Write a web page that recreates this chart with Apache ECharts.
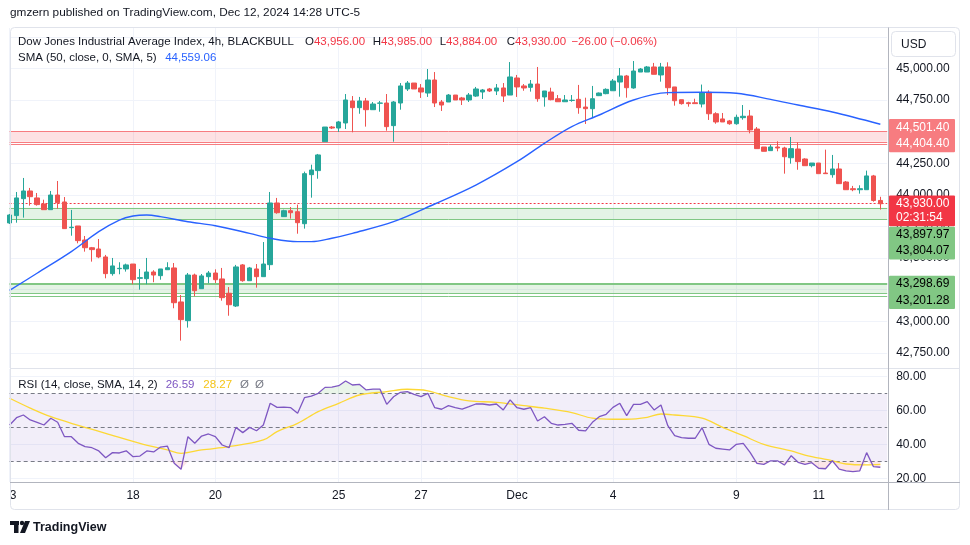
<!DOCTYPE html>
<html><head><meta charset="utf-8">
<script src="https://cdn.jsdelivr.net/npm/echarts@6/dist/echarts.min.js"></script>
<style>html,body{margin:0;padding:0;background:#fff}#c{width:970px;height:545px}</style>
</head><body><div id="c"></div>
<script>
const FONT = '"Liberation Sans", Arial, sans-serif';
// 4h candles: [open, close, low, high]
const candles = [
[43778,43841,43770,43849],[43836,43976,43780,44023],[43970,44031,43820,44134],[44031,43986,43915,44055],
[43976,43923,43915,44015],[43928,43883,43883,43962],[43883,43999,43883,44031],[43999,43938,43891,44110],
[43944,43733,43733,43983],[43741,43744,43677,43881],[43754,43638,43617,43754],[43643,43582,43551,43675],
[43582,43567,43472,43588],[43572,43509,43499,43651],[43509,43377,43340,43525],[43377,43438,43361,43501],
[43416,43419,43372,43467],[43414,43446,43393,43456],[43453,43329,43293,43453],[43340,43345,43250,43414],
[43337,43390,43293,43501],[43390,43366,43309,43404],[43361,43414,43329,43414],[43408,43424,43408,43467],
[43422,43147,43103,43461],[43153,43013,42847,43208],[43005,43366,42950,43382],[43366,43242,43198,43377],
[43258,43359,43258,43374],[43353,43382,43301,43398],[43382,43329,43303,43411],[43335,43187,43163,43422],
[43222,43131,43044,43271],[43121,43430,43113,43446],[43446,43321,43313,43453],[43321,43422,43321,43430],
[43414,43353,43266,43453],[43353,43453,43353,43627],[43448,43936,43406,44023],[43936,43859,43851,43976],
[43828,43875,43828,43883],[43875,43859,43812,43904],[43867,43780,43693,43923],[43772,44168,43733,44184],
[44160,44197,43978,44239],[44192,44316,44128,44324],[44421,44537,44421,44537],[44537,44529,44521,44545],
[44529,44577,44498,44585],[44569,44751,44521,44798],[44743,44690,44495,44782],[44690,44743,44642,44775],
[44743,44674,44540,44767],[44674,44719,44674,44735],[44725,44727,44658,44743],[44727,44540,44508,44798],
[44548,44735,44421,44743],[44727,44862,44674,44885],[44838,44885,44822,44901],[44885,44838,44838,44885],
[44846,44814,44767,44877],[44806,44909,44775,44996],[44909,44727,44695,44972],[44735,44711,44664,44751],
[44735,44790,44735,44798],[44790,44751,44751,44790],[44767,44751,44711,44775],[44751,44790,44735,44806],
[44782,44838,44775,44854],[44814,44830,44759,44838],[44838,44822,44814,44846],[44822,44846,44790,44877],
[44846,44782,44735,44885],[44790,44933,44790,45051],[44925,44854,44775,44949],[44862,44846,44824,44877],
[44851,44877,44817,44909],[44877,44761,44737,45012],[44775,44822,44698,44822],[44814,44753,44748,44848],
[44761,44737,44737,44790],[44737,44751,44737,44790],[44747,44749,44737,44790],[44756,44690,44642,44870],
[44695,44682,44561,44769],[44682,44761,44611,44862],[44785,44806,44782,44810],[44801,44835,44796,44843],
[44824,44901,44824,44917],[44893,44941,44777,45004],[44941,44848,44769,44949],[44846,44980,44840,45059],
[44972,44996,44972,45004],[44972,45012,44972,45020],[45012,44954,44954,45044],[44949,45012,44896,45044],
[45012,44848,44790,45049],[44854,44745,44706,44854],[44753,44722,44714,44753],[44729,44722,44698,44737],
[44729,44722,44722,44761],[44719,44810,44692,44873],[44812,44642,44593,44828],[44642,44577,44563,44654],
[44601,44577,44577,44648],[44585,44563,44555,44593],[44563,44614,44555,44635],[44611,44622,44595,44711],
[44624,44514,44487,44672],[44521,44366,44366,44537],[44379,44345,44345,44379],[44350,44379,44350,44397],
[44379,44371,44345,44424],[44371,44302,44168,44381],[44294,44366,44247,44458],[44363,44263,44199,44416],
[44284,44231,44231,44290],[44231,44252,44218,44252],[44252,44168,44168,44252],[44173,44168,44168,44358],
[44160,44205,44136,44316],[44205,44089,44089,44252],[44102,44041,44041,44110],[44049,44041,44029,44071],
[44041,44049,44010,44076],[44041,44150,44041,44192],[44150,43956,43946,44158],[43956,43930,43884,43985]
];
// SMA(50): [candle index, value]
const smaPoints = [[0,43244],[4,43380],[9,43551],[13,43709],[16,43801],[18,43833],[20,43841],[22,43828],
[26,43788],[30,43756],[35,43696],[38,43657],[42,43630],[44,43630],[47,43657],[50,43696],[56,43788],
[62,43928],[68,44078],[74,44263],[78,44408],[82,44540],[86,44632],[91,44751],[96,44809],[101,44812],
[106,44804],[111,44756],[115,44711],[120,44656],[127,44559.06]];
// RSI(14) per candle
const rsiValues = [51.5,55.8,57.4,54.5,53.1,51.5,55.5,53.1,44.6,44.6,40.7,38.7,38.1,36.2,32.2,35.2,35.0,36.3,
32.8,33.2,36.2,35.6,38.5,39.1,28.9,25.4,44.6,40.7,45.0,46.2,44.6,39.7,38.1,50.1,47.0,50.1,48.1,51.5,64.3,61.9,
62.1,61.7,58.4,67.6,68.6,70.2,73.7,73.9,74.7,77.5,75.1,75.5,72.2,72.7,72.7,63.7,68.2,70.8,71.2,69.6,68.2,70.2,
61.7,60.8,62.9,61.7,60.9,62.3,63.9,63.9,63.3,63.9,60.4,66.3,61.7,60.8,61.7,53.9,56.4,52.5,51.5,51.9,52.5,48.4,
48.0,53.1,56.4,57.8,61.9,64.3,57.0,63.7,63.7,65.3,60.4,63.3,51.1,45.2,44.0,43.7,43.7,49.9,40.1,37.8,37.3,36.8,
40.1,40.7,35.4,28.9,28.3,30.4,30.4,27.9,33.4,29.5,28.3,29.3,26.0,25.7,30.4,25.5,24.4,24.0,24.5,35.2,26.9,26.59];
// RSI-based MA: [candle index, value]
const rsiSmaPoints = [[0,67.3],[3,61.5],[6,56.4],[10,51.3],[14,46.6],[19,40.7],[23,36.8],[25,34.8],[28,36.8],
[32,38.7],[37,42.7],[39,47.6],[42,52.5],[45,59.4],[48,64.3],[51,69.2],[55,71.2],[58,72.6],[61,71.7],[64,68.2],
[67,65.7],[71,64.9],[75,62.9],[78,61.4],[82,58.8],[85,55.5],[88,54.9],[90,54.9],[93,56.0],[95,58.0],[97,57.4],
[101,55.5],[104,50.1],[107,45.2],[110,40.1],[114,36.2],[116,33.8],[120,30.4],[122,28.5],[125,28.0],[127,28.27]];
const priceTicks = [42750,43000,43250,43500,43750,44000,44250,44500,44750,45000,45250];
const rsiTicks = [20,40,60,80];
const rsiLevels = [70,50,30];
const dateTickIndex = [0,18,30,48,60,74,88,106,118];
const dateTickLabels = ['13','18','20','25','27','Dec','4','9','11'];
const resistanceZone = [44501.40,44420,44404.40];
const supportZoneHigh = [43897.97,43804.07];
const supportZoneLow = [43298.69,43220,43201.28];
const countdown = '02:31:54';

const N = candles.length + 1;
const cats = Array.from({length:N}, (_, i) => String(i));
const tickMap = {}; dateTickIndex.forEach((d,k) => tickMap[d] = dateTickLabels[k]);
const isTick = i => tickMap[i] !== undefined;
function fmt(v){ const s = Math.abs(v).toFixed(2).split('.'); s[0] = s[0].replace(/\B(?=(\d{3})+(?!\d))/g, ','); return (v<0?'\u2212':'') + s.join('.'); }
const last = candles[candles.length-1], prev = candles[candles.length-2];
const lastPrice = last[1];
const nul = cats.map(() => null);

const GL = 9.6, GW = 877.6;
function xAxisDef(gi, show){
  return {type:'category', gridIndex:gi, data:cats, boundaryGap:false,
    axisLine:{show:false}, axisTick:{show:false},
    axisLabel:{show:show, interval:(i)=>isTick(i), formatter:(v,i)=>tickMap[i]||'', color:'#131722', fontSize:12, fontFamily:FONT, margin:8},
    splitLine:{show:true, interval:(i)=>isTick(i), lineStyle:{color:'#f0f3fa', width:1}}};
}
const ml = (v, color, width, type) => ({yAxis:v, lineStyle:{color:color, width:width||1, type:type||'solid'}});

const option = {
  animation:false,
  backgroundColor:'#ffffff',
  grid:[{left:GL, top:28, width:GW, height:340}, {left:GL, top:369, width:GW, height:113}],
  xAxis:[xAxisDef(0,false), xAxisDef(1,true)],
  yAxis:[
    {type:'value', gridIndex:0, position:'right', min:42630.4, max:45320.4, scale:true,
     axisLine:{show:false}, axisTick:{show:false, customValues:priceTicks}, splitLine:{show:false},
     axisLabel:{customValues:priceTicks, formatter:v=>fmt(v), color:'#131722', fontSize:12, fontFamily:FONT, margin:9}},
    {type:'value', gridIndex:1, position:'right', min:17.88, max:84.54,
     axisLine:{show:false}, axisTick:{show:false, customValues:rsiTicks}, splitLine:{show:false},
     axisLabel:{customValues:rsiTicks, formatter:v=>v.toFixed(2), color:'#131722', fontSize:12, fontFamily:FONT, margin:9}}
  ],
  series:[
    {type:'line', xAxisIndex:0, yAxisIndex:0, data:nul, silent:true, showSymbol:false,
     markLine:{silent:true, z:0, symbol:['none','none'], label:{show:false},
       data: priceTicks.map(v => ml(v,'#f0f3fa',1))}},
    {type:'line', xAxisIndex:0, yAxisIndex:0, data:nul, silent:true, showSymbol:false,
     markArea:{silent:true, z:1, data:[
       [{yAxis:resistanceZone[0], itemStyle:{color:'rgba(242,54,69,0.15)'}},{yAxis:resistanceZone[1]}],
       [{yAxis:supportZoneHigh[0], itemStyle:{color:'rgba(76,175,80,0.15)'}},{yAxis:supportZoneHigh[1]}],
       [{yAxis:supportZoneLow[0], itemStyle:{color:'rgba(76,175,80,0.15)'}},{yAxis:supportZoneLow[1]}]
     ]},
     markLine:{silent:true, z:1, symbol:['none','none'], label:{show:false}, data:[
       ml(resistanceZone[0],'#f77c80'), ml(resistanceZone[1],'#f77c80'), ml(resistanceZone[2],'#f77c80'),
       ml(supportZoneHigh[0],'#81c784'), ml(supportZoneHigh[1],'#81c784'),
       ml(supportZoneLow[0],'#81c784',2), ml(supportZoneLow[1],'#81c784'), ml(supportZoneLow[2],'#81c784'),
       ml(lastPrice,'#f23645',1,[2,2])
     ]}},
    {type:'candlestick', xAxisIndex:0, yAxisIndex:0, data:candles, barWidth:5, clip:true, z:3,
     itemStyle:{color:'#26a69a', color0:'#ef5350', borderColor:'#26a69a', borderColor0:'#ef5350', borderWidth:1}},
    {type:'line', xAxisIndex:0, yAxisIndex:0, data:smaPoints, smooth:0.35, showSymbol:false, z:4,
     lineStyle:{color:'#2962ff', width:1.4}},
    // RSI pane
    {type:'line', xAxisIndex:1, yAxisIndex:1, data:nul, silent:true, showSymbol:false,
     markLine:{silent:true, z:0, symbol:['none','none'], label:{show:false}, data: rsiTicks.map(v => ml(v,'#f0f3fa',1))},
     markArea:{silent:true, z:1, data:[[{yAxis:rsiLevels[0], itemStyle:{color:'rgba(126,87,194,0.1)'}},{yAxis:rsiLevels[2]}]]}},
    {type:'line', xAxisIndex:1, yAxisIndex:1, data:nul, silent:true, showSymbol:false,
     markLine:{silent:true, z:2, symbol:['none','none'], label:{show:false}, data: rsiLevels.map(v => ml(v,'#787b86',1,[4,3]))}},
    {type:'line', xAxisIndex:1, yAxisIndex:1, stack:'ob', data:rsiValues.map(()=>70), showSymbol:false, silent:true, lineStyle:{opacity:0}, z:2},
    {type:'line', xAxisIndex:1, yAxisIndex:1, stack:'ob', data:rsiValues.map(v=>Math.max(v,70)-70), showSymbol:false, silent:true, lineStyle:{opacity:0}, areaStyle:{color:'rgba(76,175,80,0.18)'}, z:2},
    {type:'line', xAxisIndex:1, yAxisIndex:1, stack:'os', data:rsiValues.map(v=>Math.min(v,30)), showSymbol:false, silent:true, lineStyle:{opacity:0}, z:2},
    {type:'line', xAxisIndex:1, yAxisIndex:1, stack:'os', data:rsiValues.map(v=>30-Math.min(v,30)), showSymbol:false, silent:true, lineStyle:{opacity:0}, areaStyle:{color:'rgba(242,54,69,0.18)'}, z:2},
    {type:'line', xAxisIndex:1, yAxisIndex:1, data:rsiSmaPoints, smooth:0.35, showSymbol:false, z:3,
     lineStyle:{color:'#fdd835', width:1.3}},
    {type:'line', xAxisIndex:1, yAxisIndex:1, data:rsiValues, showSymbol:false, z:4,
     lineStyle:{color:'#7e57c2', width:1.3}}
  ]
};

const chart = echarts.init(document.getElementById('c'), null, {renderer:'canvas'});
chart.setOption(option);

// ---- overlay texts, frame and price tags ----
const mctx = document.createElement('canvas').getContext('2d');
function tw(t, font){ mctx.font = font; return mctx.measureText(t).width; }
const F12 = '12px ' + FONT;
const FL = '11.5px ' + FONT;
const G = [];
function txt(t, x, y, fill, font, align){
  G.push({type:'text', z:100, silent:true, style:{text:t, x:x, y:y, fill:fill, font:font||F12, align:align||'left', verticalAlign:'middle'}});
}
function segs(list, x, y, font){
  let cx = x;
  list.forEach(([t,c]) => { txt(t, cx, y, c, font); cx += tw(t, font); });
}
function line(x1,y1,x2,y2,c){ G.push({type:'line', z:90, silent:true, shape:{x1,y1,x2,y2}, style:{stroke:c, lineWidth:1}}); }

// frame & separators
G.push({type:'rect', z:89, silent:true, shape:{x:10.5, y:27.5, width:949, height:482, r:4}, style:{fill:null, stroke:'#e0e3eb', lineWidth:1}});
line(10, 368.5, 960, 368.5, '#e0e3eb');
line(10, 482.5, 960, 482.5, '#b2b5be');
line(888.5, 27.5, 888.5, 510, '#b2b5be');
// hide the part of the first date label that lies outside the pane
G.push({type:'rect', z:95, silent:true, shape:{x:0, y:484, width:10, height:24}, style:{fill:'#ffffff'}});

// header
txt('gmzern published on TradingView.com, Dec 12, 2024 14:28 UTC-5', 10, 13, '#131722', '11.8px ' + FONT);
// legend line 1
const DK = '#131722', RD = '#f23645';
txt('Dow Jones Industrial Average Index, 4h, BLACKBULL', 18, 42, DK, FL);
segs([['O',DK],[fmt(last[0]),RD]], 305, 42, FL);
segs([['H',DK],[fmt(last[3]),RD]], 372.7, 42, FL);
segs([['L',DK],[fmt(last[2]),RD]], 439.7, 42, FL);
segs([['C',DK],[fmt(last[1]),RD]], 506.7, 42, FL);
const chg = last[1] - prev[1];
txt(fmt(chg) + ' (' + fmt(chg/prev[1]*100) + '%)', 571.4, 42, RD, FL);
// legend line 2
txt('SMA (50, close, 0, SMA, 5)', 18, 58, DK, FL);
txt(fmt(smaPoints[smaPoints.length-1][1]), 165.2, 58, '#2962ff', FL);
// RSI legend
txt('RSI (14, close, SMA, 14, 2)', 18.3, 385, DK, FL);
txt(rsiValues[rsiValues.length-1].toFixed(2), 165.7, 385, '#7e57c2', FL);
txt(rsiSmaPoints[rsiSmaPoints.length-1][1].toFixed(2), 203.3, 385, '#f5c518', FL);
txt('\u00d8', 240, 385, '#787b86', FL);
txt('\u00d8', 255, 385, '#787b86', FL);

// USD box
G.push({type:'rect', z:99, silent:true, shape:{x:891.5, y:31.5, width:64, height:25, r:4}, style:{fill:'#ffffff', stroke:'#e0e3eb', lineWidth:1}});
txt('USD', 901, 44.5, DK);

// price tags
const px = v => chart.convertToPixel({yAxisIndex:0}, v);
function tag(centers, labels, bg, fg, padTop, padBot){
  const top = centers[0] - padTop, bot = centers[centers.length-1] + padBot;
  G.push({type:'rect', z:98, silent:true, shape:{x:889, y:top, width:66, height:bot-top, r:1}, style:{fill:bg}});
  labels.forEach((t,k) => txt(t, 896, centers[k], fg));
  return bot;
}
const yR2 = px(resistanceZone[2]);
tag([yR2-16.5, yR2], [fmt(resistanceZone[0]), fmt(resistanceZone[2])], '#f77c80', '#ffffff', 8.3, 8.4);
const yP = px(lastPrice);
const redBot = tag([yP-0.5, yP+13.5], [fmt(lastPrice), countdown], '#f23645', '#ffffff', 7.8, 9);
tag([redBot+8.8, redBot+24.8], [fmt(supportZoneHigh[0]), fmt(supportZoneHigh[1])], '#81c784', '#000000', 8.3, 8.5);
const yS = px(supportZoneLow[0]);
tag([yS+0.5, yS+17], [fmt(supportZoneLow[0]), fmt(supportZoneLow[2])], '#81c784', '#000000', 8.3, 8.5);

// TradingView logo
G.push({type:'rect', z:100, silent:true, shape:{x:10, y:521, width:9, height:4}, style:{fill:'#131722'}});
G.push({type:'rect', z:100, silent:true, shape:{x:14, y:521, width:4.5, height:12}, style:{fill:'#131722'}});
G.push({type:'circle', z:100, silent:true, shape:{cx:22, cy:523, r:2.2}, style:{fill:'#131722'}});
G.push({type:'polygon', z:100, silent:true, shape:{points:[[25,521],[30,521],[25,533],[20,533]]}, style:{fill:'#131722'}});
txt('TradingView', 33, 527.5, '#131722', 'bold 12.5px ' + FONT);

chart.setOption({graphic:G});
</script>
</body></html>
